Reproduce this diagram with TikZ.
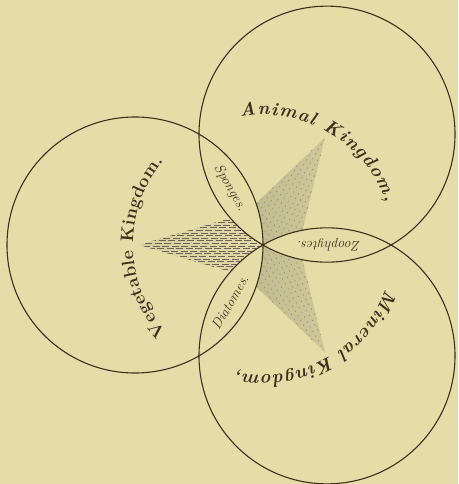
\documentclass[tikz,border=0pt]{standalone}
\usetikzlibrary{decorations.text}
\definecolor{paper}{RGB}{229,221,168}
\definecolor{ink}{RGB}{62,48,26}
\definecolor{shadelight}{RGB}{212,205,160}
\definecolor{shadedark}{RGB}{188,183,141}
\newcommand{\kingfont}{\fontsize{18.5}{18.5}\selectfont\bfseries\itshape}
\newcommand{\vegfont}{\fontsize{18}{18}\selectfont\bfseries}
\newcommand{\lensfont}{\fontsize{14}{14}\selectfont\itshape}

\begin{document}
\begin{tikzpicture}[
    x=1pt, y=1pt,
    kingdom/.style={draw=ink, line width=1.1pt},
    lensfill/.style={fill=paper},
    lenslabel/.style={font=\lensfont, text=ink, inner sep=0pt},
    hatch/.style={ink!75, line width=0.45pt, dash pattern=on 7pt off 2.5pt},
    dots/.style={ink!60, line width=0.5pt, dash pattern=on 1.5pt off 4pt},
    kingtext/.style={decorate, decoration={text along path, text align={fit to path}}}
]

% paper
\fill[paper] (-263,-239) rectangle (195,245);
\useasboundingbox (-263,-239) rectangle (195,245);

% centres
\coordinate (hub) at (0,0);
\coordinate (animal) at (60:128);
\coordinate (vegetable) at (180:128);
\coordinate (mineral) at (300:128);

% star: left arm hatched, the two others shaded
\begin{scope}[rotate=180]
  \clip (hub) -- (60:36) -- (124,0) -- (-60:36) -- cycle;
  \shade[left color=shadelight, right color=paper!80!shadelight] (-2,-40) rectangle (126,40);
  \foreach \y in {-33,-30.4,...,33}
    \draw[hatch, dash phase={abs(\y)*1.7pt}] (0,\y) -- (124,\y);
\end{scope}
\foreach \a in {60,300} {
  \begin{scope}[rotate=\a]
    \clip (hub) -- (60:36) -- (124,0) -- (-60:36) -- cycle;
    \shade[left color=shadedark, right color=paper!60!shadedark] (-2,-40) rectangle (126,40);
    \foreach \y in {-30,-25,...,30}
      \draw[dots, dash phase={abs(\y)*0.9pt}] (0,\y) -- (124,\y);
  \end{scope}
}

% lenses left clear
\begin{scope}
  \clip (animal) circle (128);
  \fill[lensfill] (vegetable) circle (128);
  \fill[lensfill] (mineral) circle (128);
\end{scope}
\begin{scope}
  \clip (vegetable) circle (128);
  \fill[lensfill] (mineral) circle (128);
\end{scope}

% the three kingdoms
\draw[kingdom] (animal) circle (128);
\draw[kingdom] (vegetable) circle (128);
\draw[kingdom] (mineral) circle (128);

% names round the hub
\path[kingtext, decoration={text={|\color{ink}\kingfont|Animal Kingdom,}}]
  (100:130) arc[start angle=100, end angle=19, radius=130];
\path[kingtext, decoration={text={|\color{ink}\vegfont|Vegetable Kingdom.}}]
  (222:130) arc[start angle=222, end angle=140, radius=130];
\path[kingtext, decoration={text={|\color{ink}\kingfont|Mineral Kingdom,}}]
  (340:130) arc[start angle=340, end angle=258, radius=130];

% lens labels
\node[lenslabel, rotate=-60] (sponges) at (120:66) {Sponges.};
\node[lenslabel, rotate=180] (zoophytes) at (0:66) {Zoophytes.};
\node[lenslabel, rotate=60] (diatomes) at (240:66) {Diatomes.};

\end{tikzpicture}
\end{document}
